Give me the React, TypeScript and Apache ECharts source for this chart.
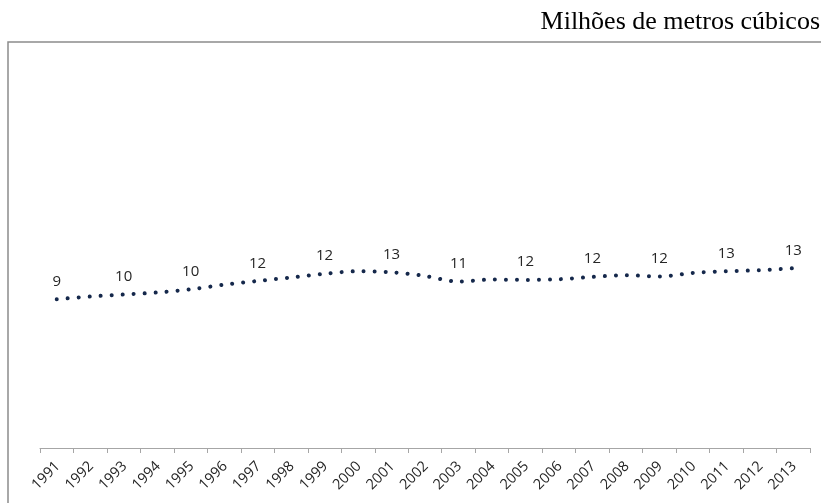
import React, { useEffect, useRef } from "react";
import * as echarts from "echarts";

const years = [
  "1991", "1992", "1993", "1994", "1995", "1996", "1997", "1998", "1999", "2000",
  "2001", "2002", "2003", "2004", "2005", "2006", "2007", "2008", "2009", "2010",
  "2011", "2012", "2013",
];
const volumes = [
  9.18, 9.52, 9.78, 10.04, 10.45, 11.04, 11.52, 11.97, 12.45, 12.78,
  12.65, 12.17, 11.45, 11.71, 11.66, 11.75, 12.05, 12.27, 12.1, 12.56,
  12.78, 12.91, 13.17,
];
const unitTitle = "Milhões de metros cúbicos";

export default function App() {
  const ref = useRef<HTMLDivElement>(null);
  useEffect(() => {
    if (!ref.current) return;
    const chart = echarts.init(ref.current, null, { renderer: "svg" });
    chart.setOption({
      animation: false,
      graphic: [
        {
          type: "rect",
          shape: { x: 8, y: 42, width: 840, height: 520 },
          style: { fill: "none", stroke: "#8c8c8c", lineWidth: 1.5 },
          silent: true,
        },
        {
          type: "text",
          x: 820,
          y: 33,
          style: {
            text: unitTitle,
            font: '26px "Liberation Serif", "Times New Roman", serif',
            fill: "#000000",
            textAlign: "right",
            textVerticalAlign: "bottom",
          },
        },
      ],
      grid: { left: 40, right: 11, top: 60, bottom: 55, containLabel: false, outerBoundsMode: "none" },
      xAxis: {
        type: "category",
        data: years,
        boundaryGap: true,
        axisLine: { onZero: false, lineStyle: { color: "#a6a6a6", width: 1 } },
        axisTick: { show: true, interval: 0, length: 5, lineStyle: { color: "#a6a6a6" } },
        axisLabel: {
          interval: 0,
          rotate: 45,
          color: "#262626",
          fontSize: 14.5,
          fontFamily: '"Open Sans", "Liberation Sans", sans-serif',
          margin: 15,
        },
        splitLine: { show: false },
      },
      yAxis: {
        type: "value",
        min: -10,
        max: 40,
        show: false,
      },
      series: [
        {
          type: "line",
          data: volumes,
          smooth: 0.3,
          symbol: "circle",
          symbolSize: 0,
          showSymbol: true,
          lineStyle: { color: "#15284b", width: 4, type: [0.01, 11], cap: "round" },
          itemStyle: { color: "#15284b" },
          label: {
            show: true,
            position: "top",
            distance: 12,
            color: "#262626",
            fontSize: 15,
            fontFamily: '"Open Sans", "Liberation Sans", sans-serif',
            formatter: (p: any) => (p.dataIndex % 2 === 0 ? String(Math.round(p.value)) : ""),
          },
        },
      ],
    });
    return () => chart.dispose();
  }, []);
  return (
    <div
      ref={ref}
      style={{ position: "fixed", left: 0, top: 0, width: 821, height: 503 }}
    />
  );
}
